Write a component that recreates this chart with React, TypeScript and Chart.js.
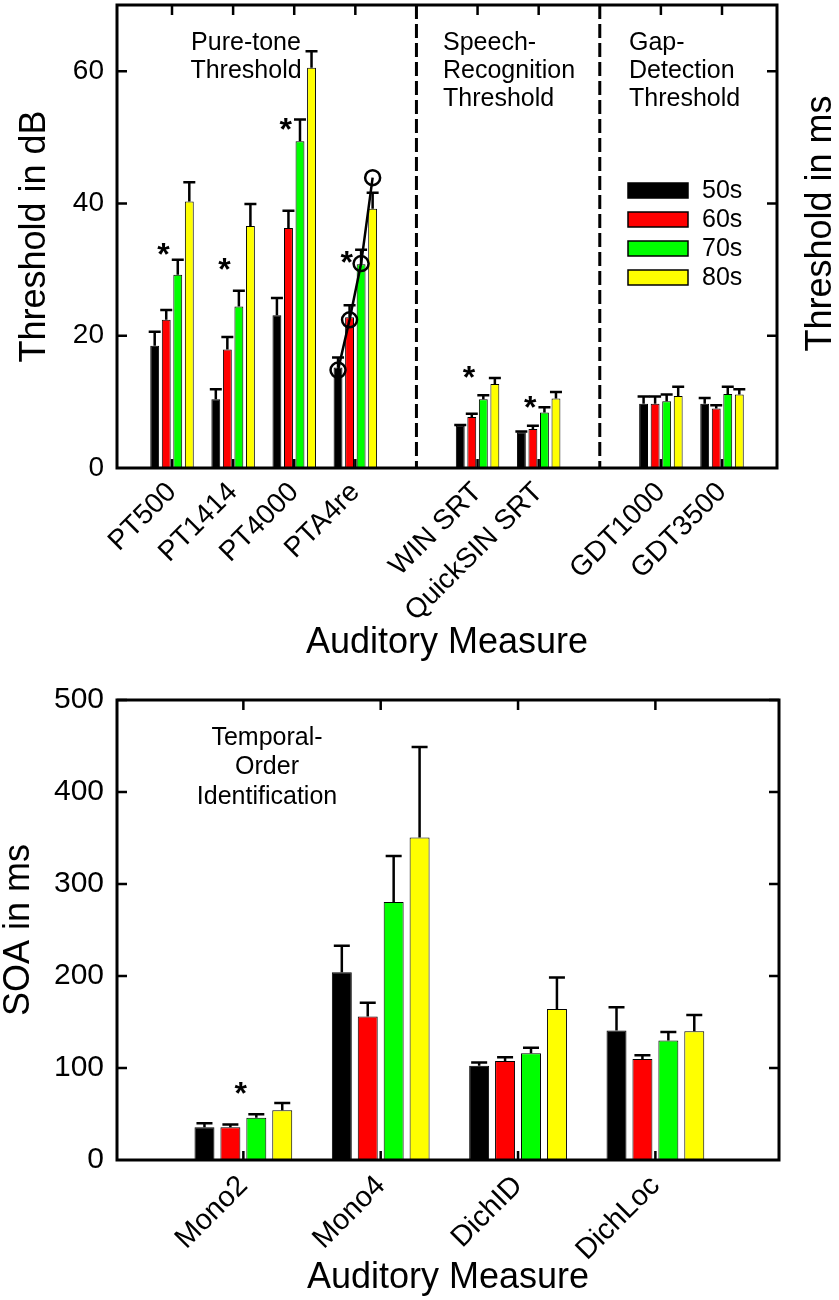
import React, { useEffect, useRef } from "react";
import { Chart, registerables } from "chart.js";

Chart.register(...registerables);

const FONT = "'Liberation Sans', Arial, Helvetica, sans-serif";

// ---------- shared series ----------
const seriesNames = ["50s", "60s", "70s", "80s"];
const seriesColors = ["#000000", "#ff0000", "#00ff00", "#ffff00"];

// ---------- top chart data ----------
const topCategories = ["PT500", "PT1414", "PT4000", "PTA4re", "WIN SRT", "QuickSIN SRT", "GDT1000", "GDT3500"];
const topPositions = [1, 2, 3, 4, 6, 7, 9, 10];
const topDividers = [5, 8];
const topYTicks = [0, 20, 40, 60];

const top50 = [18.5, 10.4, 23.1, 15.2, 6.4, 5.4, 9.7, 9.7];
const top60 = [22.4, 17.9, 36.3, 22.8, 7.7, 5.9, 9.7, 9.0];
const top70 = [29.2, 24.4, 49.4, 30.8, 10.4, 8.4, 10.1, 11.2];
const top80 = [40.3, 36.6, 60.5, 39.2, 12.7, 10.5, 10.9, 11.1];

const topErr50 = [2.1, 1.5, 2.6, 1.5, 0.1, 0.1, 1.1, 0.9];
const topErr60 = [1.5, 1.9, 2.6, 1.8, 0.5, 0.5, 1.1, 0.5];
const topErr70 = [2.3, 2.4, 3.3, 2.2, 0.6, 0.8, 1.0, 1.1];
const topErr80 = [2.9, 3.3, 2.5, 2.4, 0.9, 1.0, 1.4, 0.8];

const topStarCategories = ["PT500", "PT1414", "PT4000", "PTA4re", "WIN SRT", "QuickSIN SRT"];
const topStarValues = [33.5, 31.2, 52.4, 32.3, 14.9, 10.4];

const circleCategory = "PTA4re";
const circleValues = [14.8, 22.4, 30.9, 43.9];

// ---------- bottom chart data ----------
const bottomCategories = ["Mono2", "Mono4", "DichID", "DichLoc"];
const bottomPositions = [1, 2, 3, 4];
const bottomYTicks = [0, 100, 200, 300, 400, 500];

const bottom50 = [35.5, 204, 102.5, 140.7];
const bottom60 = [35.5, 156, 107.5, 109.7];
const bottom70 = [46, 280.5, 116, 129.8];
const bottom80 = [54.2, 350.6, 164, 140];

const bottomErr50 = [4.5, 29, 3.5, 25.3];
const bottomErr60 = [3.2, 15, 4.1, 4.1];
const bottomErr70 = [3.6, 50, 6, 9.2];
const bottomErr80 = [7.8, 98.4, 34.5, 17.6];

const bottomStarCategories = ["Mono2"];
const bottomStarValues = [81];

// ---------- decoration plugin ----------
function makeDecor(cfg: any) {
  return {
    id: "decor-" + cfg.name,
    afterDatasetsDraw(chart: any) {
      const { ctx, chartArea: a, scales } = chart;
      const x = scales.x;
      const y = scales.y;
      ctx.save();

      // dashed dividers
      ctx.strokeStyle = "#000";
      ctx.lineWidth = 3;
      ctx.setLineDash([14, 5]);
      (cfg.dividers || []).forEach((d: number) => {
        const px = x.getPixelForValue(d);
        ctx.beginPath();
        ctx.moveTo(px, a.top);
        ctx.lineTo(px, a.bottom);
        ctx.stroke();
      });
      ctx.setLineDash([]);

      // error bars (upper only)
      ctx.lineWidth = 2.5;
      chart.data.datasets.forEach((ds: any, di: number) => {
        const meta = chart.getDatasetMeta(di);
        const errs = cfg.errors[di];
        meta.data.forEach((bar: any, i: number) => {
          const v = ds.data[i].y;
          const py = y.getPixelForValue(v + errs[i]);
          ctx.beginPath();
          ctx.moveTo(bar.x, bar.y);
          ctx.lineTo(bar.x, py);
          ctx.moveTo(bar.x - cfg.capWidth / 2, py);
          ctx.lineTo(bar.x + cfg.capWidth / 2, py);
          ctx.stroke();
        });
      });

      // frame
      ctx.lineWidth = 3;
      ctx.strokeRect(a.left, a.top, a.right - a.left, a.bottom - a.top);

      // inward ticks
      ctx.lineWidth = 2.5;
      y.ticks.forEach((t: any) => {
        if (t.value === y.min) return;
        const py = y.getPixelForValue(t.value);
        ctx.beginPath();
        ctx.moveTo(a.left, py);
        ctx.lineTo(a.left + 10, py);
        ctx.moveTo(a.right, py);
        ctx.lineTo(a.right - 10, py);
        ctx.stroke();
      });
      x.ticks.forEach((t: any) => {
        const px = x.getPixelForValue(t.value);
        ctx.beginPath();
        ctx.moveTo(px, a.top);
        ctx.lineTo(px, a.top + 10);
        ctx.moveTo(px, a.bottom);
        ctx.lineTo(px, a.bottom - 9);
        ctx.stroke();
      });

      // significance asterisks
      ctx.fillStyle = "#000";
      ctx.font = `bold 32px ${FONT}`;
      ctx.textAlign = "center";
      ctx.textBaseline = "alphabetic";
      cfg.starCategories.forEach((c: string, i: number) => {
        const pos = cfg.positions[cfg.categories.indexOf(c)];
        const px = x.getPixelForValue(pos + cfg.starShift);
        const py = y.getPixelForValue(cfg.starValues[i]);
        ctx.fillText("*", px, py + 18.5);
      });

      // circles + connecting line
      if (cfg.circles) {
        const ci = cfg.categories.indexOf(cfg.circles.category);
        const pts = cfg.circles.values.map((v: number, di: number) => {
          const bar = chart.getDatasetMeta(di).data[ci];
          return [bar.x, y.getPixelForValue(v)];
        });
        ctx.lineWidth = 2.5;
        ctx.beginPath();
        pts.forEach((p: number[], k: number) => (k === 0 ? ctx.moveTo(p[0], p[1]) : ctx.lineTo(p[0], p[1])));
        ctx.stroke();
        pts.forEach((p: number[]) => {
          ctx.beginPath();
          ctx.arc(p[0], p[1], 7.5, 0, Math.PI * 2);
          ctx.stroke();
        });
      }

      // annotation text blocks
      ctx.fillStyle = "#000";
      ctx.font = `25px ${FONT}`;
      ctx.textBaseline = "middle";
      cfg.notes.forEach((n: any) => {
        ctx.textAlign = n.align;
        n.lines.forEach((line: string, k: number) => {
          ctx.fillText(line, a.left + n.dx, a.top + n.dy + k * n.step);
        });
      });

      // legend
      if (cfg.legend) {
        const L = cfg.legend;
        ctx.font = `25px ${FONT}`;
        ctx.textAlign = "left";
        ctx.textBaseline = "middle";
        chart.data.datasets.forEach((ds: any, di: number) => {
          const bx = a.left + L.dx;
          const by = a.top + L.dy + di * L.step;
          ctx.fillStyle = ds.backgroundColor;
          ctx.fillRect(bx, by, 60, 15);
          ctx.lineWidth = 1.5;
          ctx.strokeStyle = "#000";
          ctx.strokeRect(bx, by, 60, 15);
          ctx.fillStyle = "#000";
          ctx.fillText(ds.label, bx + 74, by + 8);
        });
      }

      // right-hand axis title
      if (cfg.rightTitle) {
        ctx.save();
        ctx.translate(a.right + 44, (a.top + a.bottom) / 2 - 13);
        ctx.rotate(-Math.PI / 2);
        ctx.font = `36px ${FONT}`;
        ctx.textAlign = "center";
        ctx.textBaseline = "middle";
        ctx.fillStyle = "#000";
        ctx.fillText(cfg.rightTitle, 0, 0);
        ctx.restore();
      }

      ctx.restore();
    },
  };
}

function zeroPad(s: any) {
  s.paddingTop = 0;
  s.paddingBottom = 0;
  s.paddingLeft = 0;
  s.paddingRight = 0;
}

function buildConfig(o: any) {
  return {
    type: "bar",
    data: {
      datasets: seriesNames.map((name, si) => ({
        label: name,
        data: o.positions.map((p: number, i: number) => ({ x: p, y: o.values[si][i] })),
        backgroundColor: seriesColors[si],
        borderColor: "#000",
        borderWidth: 1,
        categoryPercentage: 0.755,
        barPercentage: 0.77,
      })),
    },
    options: {
      responsive: false,
      animation: false,
      layout: { padding: { left: 0, top: o.padTop, right: o.padRight, bottom: 0 } },
      plugins: { legend: { display: false }, tooltip: { enabled: false } },
      scales: {
        x: {
          type: "linear",
          bounds: "data",
          min: o.xMin,
          max: o.xMax,
          offset: false,
          grid: { display: false, drawTicks: false },
          border: { display: false },
          afterBuildTicks: (s: any) => {
            s.ticks = o.positions.map((v: number) => ({ value: v }));
          },
          afterFit: (s: any) => {
            s.height = o.xHeight;
            zeroPad(s);
          },
          ticks: {
            autoSkip: false,
            minRotation: 45,
            maxRotation: 45,
            padding: o.xTickPad,
            color: "#000",
            font: { family: FONT, size: o.xTickSize },
            callback: (v: number) => {
              const k = o.positions.indexOf(v);
              return k >= 0 ? o.categories[k] : "";
            },
          },
          title: {
            display: true,
            text: "Auditory Measure",
            color: "#000",
            font: { family: FONT, size: 36, lineHeight: 1 },
            padding: { top: 0, bottom: 4 },
          },
        },
        y: {
          type: "linear",
          bounds: "data",
          min: o.yMin,
          max: o.yMax,
          grid: { display: false, drawTicks: false },
          border: { display: false },
          afterBuildTicks: (s: any) => {
            s.ticks = o.yTicks.map((v: number) => ({ value: v }));
          },
          afterFit: (s: any) => {
            s.width = 117;
            zeroPad(s);
          },
          ticks: {
            padding: 13,
            color: "#000",
            font: { family: FONT, size: o.yTickSize },
          },
          title: {
            display: true,
            text: o.yTitle,
            color: "#000",
            font: { family: FONT, size: 36, lineHeight: 1 },
            padding: { top: o.yTitlePad, bottom: 0 },
          },
        },
      },
    },
    plugins: [o.decor],
  };
}

const topConfig = () =>
  buildConfig({
    positions: topPositions,
    categories: topCategories,
    values: [top50, top60, top70, top80],
    padTop: 5,
    padRight: 62,
    xMin: 0.1,
    xMax: 10.9,
    xHeight: 197,
    xTickPad: 8,
    xTickSize: 28,
    yMin: 0,
    yMax: 70,
    yTicks: topYTicks,
    yTickSize: 28,
    yTitle: "Threshold in dB",
    yTitlePad: 17,
    decor: makeDecor({
      name: "top",
      positions: topPositions,
      categories: topCategories,
      dividers: topDividers,
      errors: [topErr50, topErr60, topErr70, topErr80],
      capWidth: 12,
      starCategories: topStarCategories,
      starValues: topStarValues,
      starShift: -0.14,
      circles: { category: circleCategory, values: circleValues },
      notes: [
        { lines: ["Pure-tone", "Threshold"], align: "center", dx: 129, dy: 38, step: 28 },
        { lines: ["Speech-", "Recognition", "Threshold"], align: "left", dx: 326, dy: 38, step: 28 },
        { lines: ["Gap-", "Detection", "Threshold"], align: "left", dx: 512, dy: 38, step: 28 },
      ],
      legend: { dx: 511, dy: 178, step: 29 },
      rightTitle: "Threshold in ms",
    }),
  });

const bottomConfig = () =>
  buildConfig({
    positions: bottomPositions,
    categories: bottomCategories,
    values: [bottom50, bottom60, bottom70, bottom80],
    padTop: 35,
    padRight: 60,
    xMin: 0.08,
    xMax: 4.9,
    xHeight: 140,
    xTickPad: 9,
    xTickSize: 29,
    yMin: 0,
    yMax: 500,
    yTicks: bottomYTicks,
    yTickSize: 30,
    yTitle: "SOA in ms",
    yTitlePad: 1,
    decor: makeDecor({
      name: "bottom",
      positions: bottomPositions,
      categories: bottomCategories,
      dividers: [],
      errors: [bottomErr50, bottomErr60, bottomErr70, bottomErr80],
      capWidth: 16,
      starCategories: bottomStarCategories,
      starValues: bottomStarValues,
      starShift: -0.02,
      circles: null,
      notes: [{ lines: ["Temporal-", "Order", "Identification"], align: "center", dx: 150, dy: 38, step: 29.5 }],
      legend: null,
      rightTitle: null,
    }),
  });

function ChartCanvas({ makeConfig, top, height }: any) {
  const ref = useRef<HTMLCanvasElement>(null);
  useEffect(() => {
    const chart = new Chart(ref.current as HTMLCanvasElement, makeConfig());
    return () => chart.destroy();
  }, []);
  return (
    <div style={{ position: "absolute", left: 0, top, width: 839, height }}>
      <canvas ref={ref} width={839} height={height} style={{ display: "block", width: 839, height }} />
    </div>
  );
}

export default function App() {
  return (
    <div style={{ position: "absolute", left: 0, top: 0, width: 839, height: 1300, background: "#fff" }}>
      <ChartCanvas makeConfig={topConfig} top={0} height={665} />
      <ChartCanvas makeConfig={bottomConfig} top={665} height={635} />
    </div>
  );
}
